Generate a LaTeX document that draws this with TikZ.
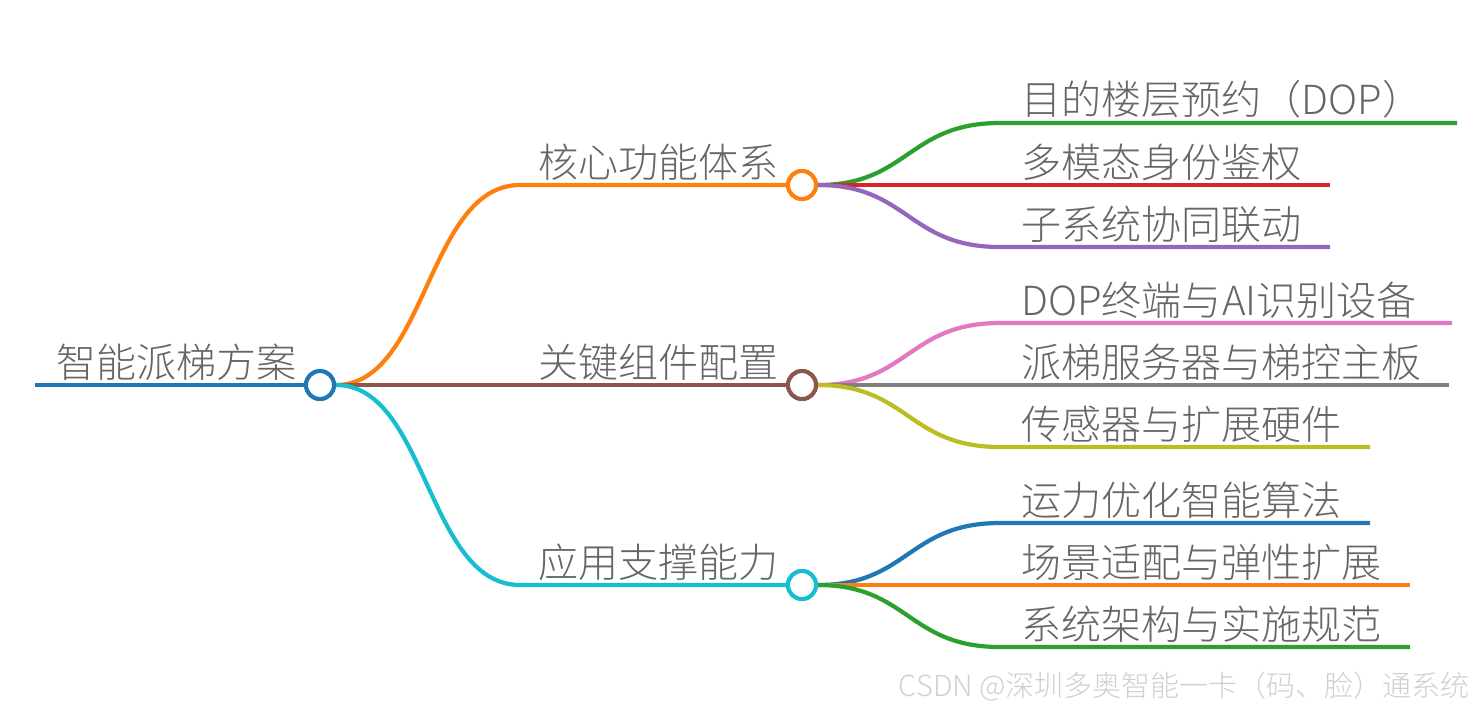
\documentclass[tikz,border=0pt]{standalone}
\usepackage{fontspec}
\setmainfont{Noto Sans CJK SC Light}
\definecolor{cblue}{HTML}{1F77B4}
\definecolor{corange}{HTML}{FF7F0E}
\definecolor{cgreen}{HTML}{2CA02C}
\definecolor{cred}{HTML}{D62728}
\definecolor{cpurple}{HTML}{9467BD}
\definecolor{cbrown}{HTML}{8C564B}
\definecolor{cpink}{HTML}{E377C2}
\definecolor{cgray}{HTML}{7F7F7F}
\definecolor{colive}{HTML}{BCBD22}
\definecolor{ccyan}{HTML}{17BECF}
\definecolor{txtgray}{HTML}{666666}
\definecolor{wmgray}{HTML}{D0D0D0}
\begin{document}
\begin{tikzpicture}
[x=0.02cm,y=-0.02cm,
hub/.style = {draw, circle, fill = white, line width = 2.3pt, minimum size = 0.56cm, inner sep = 0pt},
lbl/.style = {anchor = south west, inner sep = 0pt, text = txtgray, font = \fontsize{22.8}{24}\selectfont},
edge/.style = {line width = 2.4pt},]
\useasboundingbox (0,0) rectangle (1474,711);
\def\bx{520}
\def\lx{1000}

% root
\coordinate (r0) at (35,385);
\node (root) at (320,385)[hub, draw = cblue] {};
\node (rtxt) at (56,381)[lbl] {智能派梯方案};

% branch hubs
\node (b1) at (802,185)[hub, draw = corange] {};
\node (b2) at (802,385)[hub, draw = cbrown] {};
\node (b3) at (802,585)[hub, draw = ccyan] {};
\coordinate (b1s) at (\bx,185);
\coordinate (b2s) at (\bx,385);
\coordinate (b3s) at (\bx,585);
\node (b1txt) at (538,181)[lbl] {核心功能体系};
\node (b2txt) at (538,381)[lbl] {关键组件配置};
\node (b3txt) at (538,581)[lbl] {应用支撑能力};

% leaf ends
\coordinate (l1s) at (\lx,123);  \coordinate (l1e) at (1457,123);
\coordinate (l2s) at (\lx,185);  \coordinate (l2e) at (1330,185);
\coordinate (l3s) at (\lx,247);  \coordinate (l3e) at (1330,247);
\coordinate (l4s) at (\lx,323);  \coordinate (l4e) at (1452,323);
\coordinate (l5s) at (\lx,385);  \coordinate (l5e) at (1449,385);
\coordinate (l6s) at (\lx,447);  \coordinate (l6e) at (1370,447);
\coordinate (l7s) at (\lx,523);  \coordinate (l7e) at (1370,523);
\coordinate (l8s) at (\lx,585);  \coordinate (l8e) at (1410,585);
\coordinate (l9s) at (\lx,647);  \coordinate (l9e) at (1410,647);

% connectors
\draw[edge, cblue] (r0) -- (root.west);
\draw[edge, corange] (root.east) .. controls (427,385) and (427,185) .. (b1s) -- (b1.west);
\draw[edge, cbrown] (root.east) -- (b2s) -- (b2.west);
\draw[edge, ccyan] (root.east) .. controls (427,385) and (427,585) .. (b3s) -- (b3.west);

\draw[edge, cgreen] (b1.east) .. controls (908,185) and (908,123) .. (l1s) -- (l1e);
\draw[edge, cred] (b1.east) -- (l2s) -- (l2e);
\draw[edge, cpurple] (b1.east) .. controls (908,185) and (908,247) .. (l3s) -- (l3e);
\draw[edge, cpink] (b2.east) .. controls (908,385) and (908,323) .. (l4s) -- (l4e);
\draw[edge, cgray] (b2.east) -- (l5s) -- (l5e);
\draw[edge, colive] (b2.east) .. controls (908,385) and (908,447) .. (l6s) -- (l6e);
\draw[edge, cblue] (b3.east) .. controls (908,585) and (908,523) .. (l7s) -- (l7e);
\draw[edge, corange] (b3.east) -- (l8s) -- (l8e);
\draw[edge, cgreen] (b3.east) .. controls (908,585) and (908,647) .. (l9s) -- (l9e);

% redraw hubs over the lines
\node at (root)[hub, draw = cblue] {};
\node at (b1)[hub, draw = corange] {};
\node at (b2)[hub, draw = cbrown] {};
\node at (b3)[hub, draw = ccyan] {};

% leaf labels
\node (l1) at (1021,119)[lbl] {目的楼层预约（DOP）};
\node (l2) at (1021,181)[lbl] {多模态身份鉴权};
\node (l3) at (1021,243)[lbl] {子系统协同联动};
\node (l4) at (1021,319)[lbl] {DOP终端与AI识别设备};
\node (l5) at (1021,381)[lbl] {派梯服务器与梯控主板};
\node (l6) at (1021,443)[lbl] {传感器与扩展硬件};
\node (l7) at (1021,519)[lbl] {运力优化智能算法};
\node (l8) at (1021,581)[lbl] {场景适配与弹性扩展};
\node (l9) at (1021,643)[lbl] {系统架构与实施规范};

\node (wm) at (1470,686)[anchor = east, inner sep = 0pt, text = wmgray, font = \fontsize{16.5}{18}\selectfont] {CSDN @深圳多奥智能一卡（码、脸）通系统};

\end{tikzpicture}
\end{document}
